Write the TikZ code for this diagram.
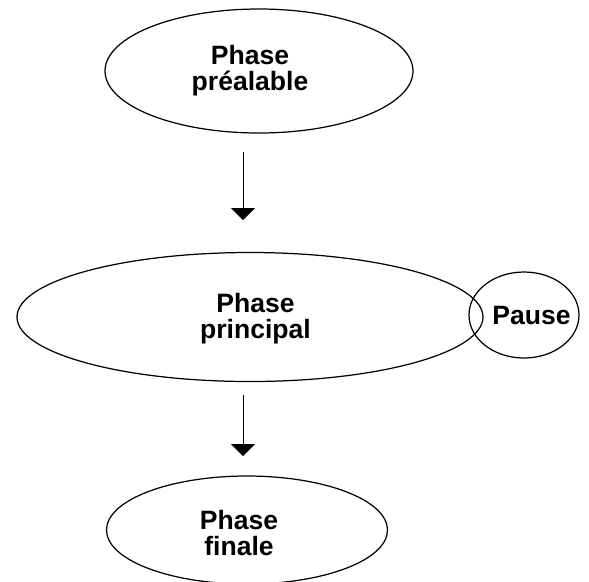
\documentclass[tikz,border=0pt]{standalone}
\usepackage{fontspec}
\setmainfont{Liberation Sans}
\usetikzlibrary{arrows.meta,shapes.geometric}

\begin{document}
\begin{tikzpicture}[
		phase/.style={draw, ellipse, line width=0.7pt, inner sep=0pt},
		libelle/.style={align=center, inner sep=0pt, font=\bfseries\fontsize{15.1}{14.8}\selectfont},
		fleche/.style={-{Triangle[width=0.48cm,length=0.24cm]}, line width=0.5pt}
	]
		
		% Rahmen
		\useasboundingbox (0,0) rectangle (11.78,-11.62);
		
		% Phasen
		\node[phase, minimum width=6.16cm, minimum height=2.48cm,
			label={[libelle, xshift=-0.18cm]center:Phase\\préalable}] (prealable) at (5.18,-1.42) {};
		\node[phase, minimum width=9.32cm, minimum height=2.58cm,
			label={[libelle, xshift=0.11cm, yshift=-0.03cm]center:Phase\\principal}] (principal) at (5.00,-6.34) {};
		\node[phase, minimum width=2.20cm, minimum height=1.72cm,
			label={[libelle, xshift=0.15cm]center:Pause}] (pause) at (10.48,-6.30) {};
		\node[phase, minimum width=5.62cm, minimum height=2.16cm,
			label={[libelle, xshift=-0.16cm, yshift=-0.06cm]center:Phase\\finale}] (finale) at (4.94,-10.60) {};
		
		% Pfeile
		\coordinate (haut1) at (4.86,-3.04);
		\coordinate (bas1) at (4.86,-4.40);
		\coordinate (haut2) at (4.86,-7.90);
		\coordinate (bas2) at (4.86,-9.12);
		\draw[fleche] (haut1) -- (bas1);
		\draw[fleche] (haut2) -- (bas2);
		
	\end{tikzpicture}
\end{document}
